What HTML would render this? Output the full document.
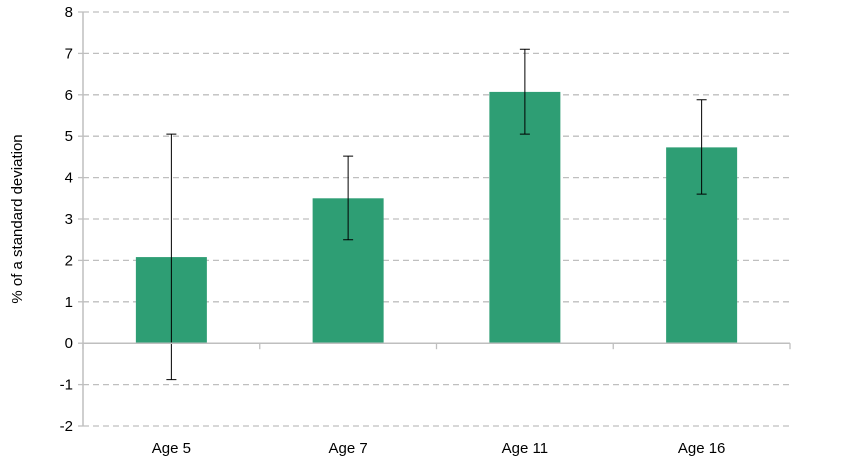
<!DOCTYPE html>
<html><head><meta charset="utf-8"><style>
body{margin:0;background:#fff;}
svg text{font-family:"Liberation Sans",Arial,sans-serif;font-size:15px;fill:#000;}
</style></head><body>
<svg id="chart" width="848" height="462" xmlns="http://www.w3.org/2000/svg">
<g id="grid"></g><g id="bars"></g><g id="axes"></g><g id="labels"></g>
<text transform="translate(22,219) rotate(-90)" text-anchor="middle">% of a standard deviation</text>
</svg>
<script>
const categories=["Age 5","Age 7","Age 11","Age 16"];
const values=[2.08,3.5,6.07,4.73];
const errLow=[-0.88,2.5,5.05,3.6];
const errHigh=[5.05,4.52,7.1,5.88];
const yTicks=[-2,-1,0,1,2,3,4,5,6,7,8];
const NS="http://www.w3.org/2000/svg";
const x0=83,x1=790,yTop=12,yBot=426,yMin=-2,yMax=8;
const y=v=>yBot-(v-yMin)/(yMax-yMin)*(yBot-yTop);
const bw=(x1-x0)/categories.length;
const xc=i=>x0+bw*(i+0.5);
function mk(tag,attrs,parent){const e=document.createElementNS(NS,tag);for(const k in attrs)e.setAttribute(k,attrs[k]);document.getElementById(parent).appendChild(e);return e;}
yTicks.forEach(t=>{
  if(t!==0){const g=mk('line',{x1:x0,x2:x1,y1:y(t),y2:y(t),stroke:'#bfbfbf','stroke-width':1.3,'stroke-dasharray':'6,4'},'grid');
  
  }
  const tk=mk('line',{x1:x0-5,x2:x0,y1:y(t),y2:y(t),stroke:'#bfbfbf','stroke-width':1.3},'axes');
  
  
  const tx=mk('text',{x:x0-10,y:y(t)+5,'text-anchor':'end'},'labels');tx.textContent=t;
  
  
});
categories.forEach((c,i)=>{
  const b=mk('rect',{x:xc(i)-35.5,width:71,y:y(Math.max(values[i],0)),height:Math.abs(y(values[i])-y(0)),fill:'#2e9e74'},'bars');
  
  
  const e=mk('path',{d:`M${xc(i)},${y(errLow[i])}V${y(errHigh[i])}M${xc(i)-5},${y(errLow[i])}H${xc(i)+5}M${xc(i)-5},${y(errHigh[i])}H${xc(i)+5}`,stroke:'#000','stroke-width':1,fill:'none'},'bars');
  
  
  const tx=mk('text',{x:xc(i),y:453,'text-anchor':'middle'},'labels');tx.textContent=c;
  
  
});
for(let i=0;i<=categories.length;i++){
  const t=mk('line',{x1:x0+bw*i,x2:x0+bw*i,y1:y(0),y2:y(0)+6,stroke:'#bfbfbf','stroke-width':1.3},'axes');
  
  
}
const ya=mk('line',{x1:x0,x2:x0,y1:yTop,y2:yBot,stroke:'#bfbfbf','stroke-width':1.5},'axes');


const xa=mk('line',{x1:x0,x2:x1,y1:y(0),y2:y(0),stroke:'#bfbfbf','stroke-width':1.5},'axes');


</script>
</body></html>
